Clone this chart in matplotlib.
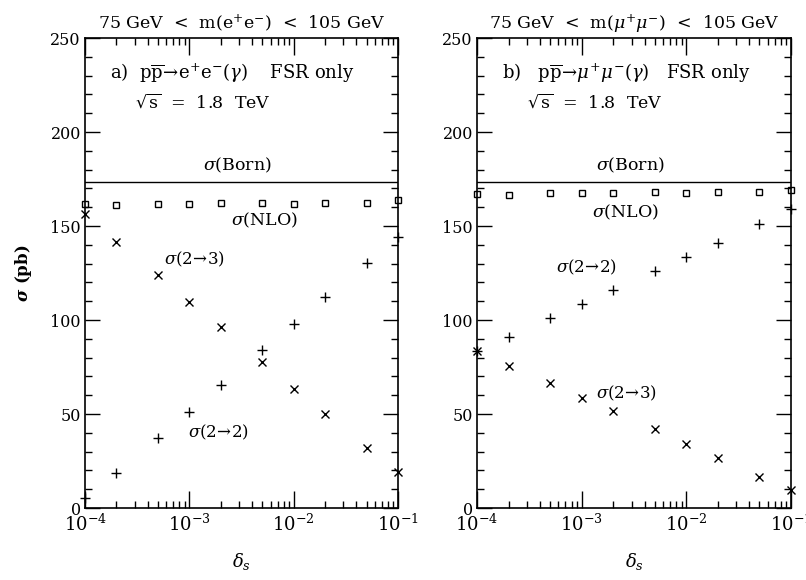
import matplotlib
matplotlib.use("Agg")
import matplotlib.pyplot as plt
from matplotlib.ticker import LogLocator, MultipleLocator, NullFormatter

plt.rcParams['font.family'] = ['DejaVu Serif']
plt.rcParams['mathtext.fontset'] = 'dejavuserif'

# delta_s values (same grid for both panels)
delta_s = [1e-4, 2e-4, 5e-4, 1e-3, 2e-3, 5e-3, 1e-2, 2e-2, 5e-2, 1e-1]

# panel a) electrons
born_e = 173.6
nlo_e = [161.9, 161.0, 161.5, 161.5, 162.4, 162.4, 161.9, 162.4, 162.4, 163.7]
s23_e = [156.2, 141.5, 123.8, 109.6, 96.4, 77.7, 63.5, 49.8, 32.1, 19.1]
s22_e = [5.5, 18.8, 37.4, 51.2, 65.3, 84.0, 97.7, 112.2, 130.1, 144.3]

# panel b) muons
born_m = 173.6
nlo_m = [167.2, 166.5, 167.7, 167.4, 167.7, 168.3, 167.7, 168.3, 168.1, 169.0]
s23_m = [83.5, 75.5, 66.7, 58.7, 51.6, 41.9, 33.9, 26.8, 16.6, 9.4]
s22_m = [83.5, 91.0, 101.2, 108.3, 115.8, 126.1, 133.5, 141.1, 150.9, 158.9]

titles = [r'75 GeV  <  m(e$^{+}$e$^{-}$)  <  105 GeV',
          r'75 GeV  <  m($\mu^{+}\mu^{-}$)  <  105 GeV']
procs = [r'a)  $\mathrm{p\overline{p}}\!\rightarrow\!\mathrm{e^{+}e^{-}}(\gamma)$    FSR only',
         r'b)   $\mathrm{p\overline{p}}\!\rightarrow\!\mu^{+}\mu^{-}(\gamma)$   FSR only']

fig = plt.figure(figsize=(8.06, 5.8), dpi=100)
ax1 = fig.add_axes([0.1055, 0.1241, 0.3883, 0.8103])
ax2 = fig.add_axes([0.5918, 0.1241, 0.3896, 0.8103])

panels = [
    (ax1, born_e, nlo_e, s23_e, s22_e,
     {'born': (2.9e-3, 182.5), 'nlo': (5.2e-3, 153.0),
      's23': (1.12e-3, 132.4), 's22': (1.9e-3, 40.4)}),
    (ax2, born_m, nlo_m, s23_m, s22_m,
     {'born': (2.9e-3, 182.5), 'nlo': (2.65e-3, 157.4),
      's23': (2.7e-3, 61.0), 's22': (1.12e-3, 127.8)}),
]

for i, (ax, born, nlo, s23, s22, pos) in enumerate(panels):
    ax.axhline(born, color='black', lw=1.0)
    ax.plot(delta_s, nlo, ls='none', marker='s', ms=5, mfc='none',
            mec='black', mew=1.0, clip_on=False)
    ax.plot(delta_s, s23, ls='none', marker='x', ms=6, color='black',
            mew=1.0, clip_on=False)
    ax.plot(delta_s, s22, ls='none', marker='+', ms=7, color='black',
            mew=1.0, clip_on=False)

    ax.set_xscale('log')
    ax.set_xlim(1e-4, 1e-1)
    ax.set_ylim(0, 250)

    ax.xaxis.set_major_locator(LogLocator(base=10, numticks=10))
    ax.xaxis.set_minor_locator(LogLocator(base=10, subs=range(2, 10), numticks=20))
    ax.xaxis.set_minor_formatter(NullFormatter())
    ax.yaxis.set_major_locator(MultipleLocator(50))
    ax.yaxis.set_minor_locator(MultipleLocator(10))

    ax.tick_params(which='both', direction='in', top=True, right=True,
                   labelsize=11.5, width=1.0, pad=3)
    ax.tick_params(axis='y', which='major', length=11)
    ax.tick_params(axis='y', which='minor', length=5)
    ax.tick_params(axis='x', which='major', length=12, labelsize=13, pad=4)
    ax.tick_params(axis='x', which='minor', length=5)
    for sp in ax.spines.values():
        sp.set_linewidth(1.2)

    ax.set_title(titles[i], fontsize=12.5, pad=7)
    ax.text(1.75e-4, 231, procs[i], fontsize=13, va='center', ha='left')
    ax.text(3.0e-4, 216, r'$\sqrt{\mathrm{s}}$  =  1.8  TeV', fontsize=12.5,
            va='center', ha='left')
    ax.text(*pos['born'], r'$\sigma$(Born)', fontsize=12.5, ha='center', va='center')
    ax.text(*pos['nlo'], r'$\sigma$(NLO)', fontsize=12.5, ha='center', va='center')
    ax.text(*pos['s23'], r'$\sigma(2\!\rightarrow\!3)$', fontsize=12, ha='center', va='center')
    ax.text(*pos['s22'], r'$\sigma(2\!\rightarrow\!2)$', fontsize=12, ha='center', va='center')

    ax.set_xlabel(r'$\boldsymbol{\delta_s}$', fontsize=13, labelpad=12)

ax1.set_ylabel(r'$\boldsymbol{\sigma}$ (pb)', fontsize=12, fontweight='bold', labelpad=12)

fig.savefig('out.png', dpi=100)
